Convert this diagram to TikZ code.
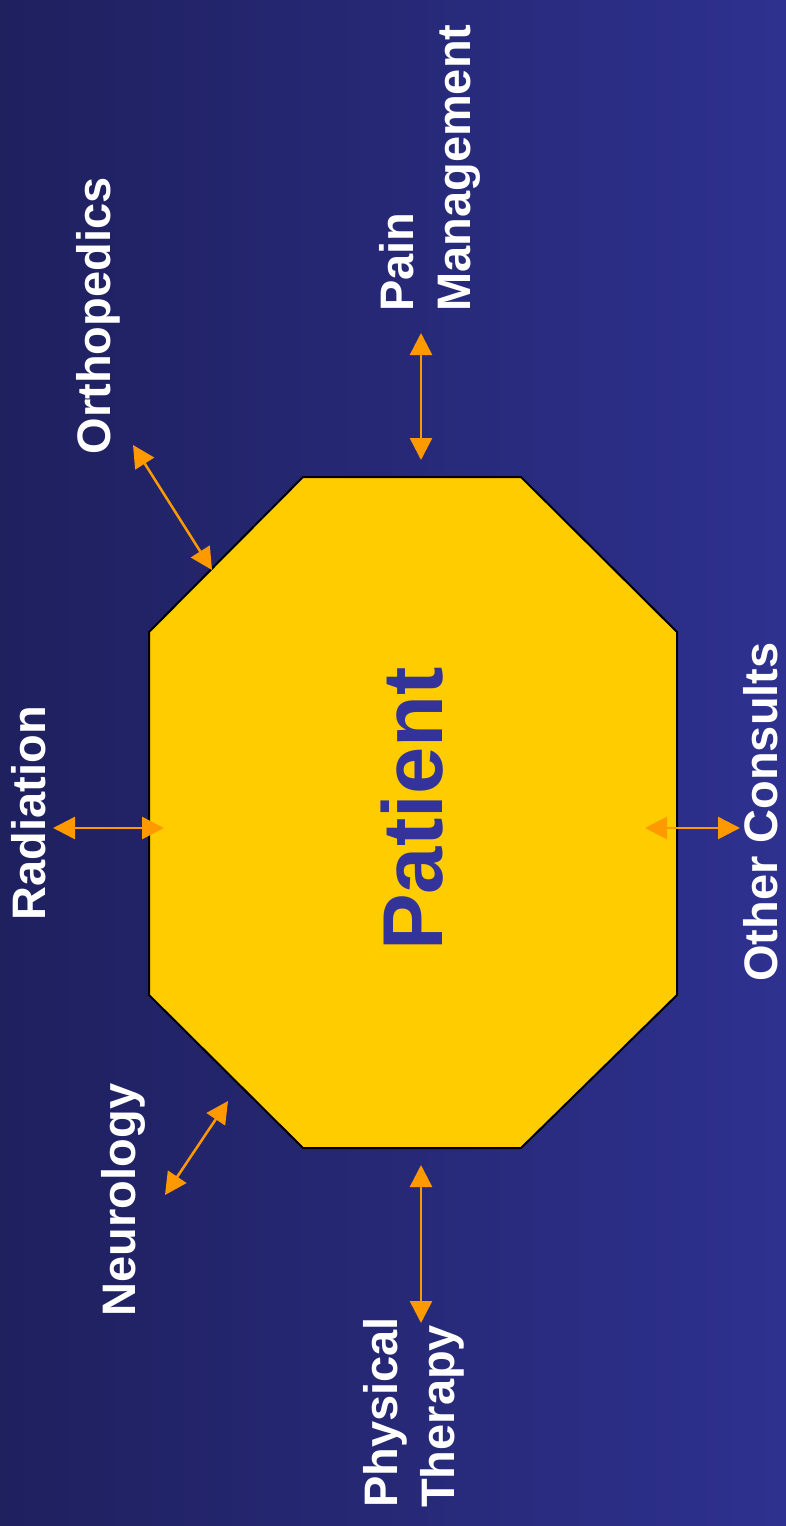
\documentclass[tikz,border=0pt]{standalone}
\usepackage{fontspec}
\setmainfont{Liberation Sans}
\usetikzlibrary{arrows.meta}
\definecolor{bgleft}{RGB}{31,32,94}
\definecolor{bgright}{RGB}{46,49,143}
\definecolor{octfill}{RGB}{255,204,0}
\definecolor{arrowc}{RGB}{255,153,0}
\definecolor{patientc}{RGB}{51,51,153}
\begin{document}
\begin{tikzpicture}[x=1pt,y=-1pt,
  link/.style={arrowc, line width=2.5pt,
    {Triangle[length=22pt,width=22pt]}-{Triangle[length=22pt,width=22pt]}},
  lbl/.style={text=white, font=\bfseries\fontsize{47}{57}\selectfont,
    rotate=90, inner sep=0pt},
  octagon/.style={fill=octfill, draw=black, line width=2pt, line join=miter}]
\shade[left color=bgleft, right color=bgright] (0,0) rectangle (786,1526);
\useasboundingbox (0,0) rectangle (786,1526);
% octagon
\draw[octagon] (303,477) -- (521,477) -- (677,632) -- (677,995) -- (521,1148)
  -- (303,1148) -- (149,995) -- (149,632) -- cycle;
\node[rotate=90, anchor=base, text=patientc, inner sep=0pt,
  font=\bfseries\fontsize{85}{100}\selectfont] (patient) at (442,809) {Patient};
% labels
\node[lbl, anchor=base] (rad) at (45,813) {Radiation};
\node[lbl, anchor=base] (ortho) at (110,316) {Orthopedics};
\node[lbl, anchor=north west, align=left] (pain) at (379,312) {Pain\\Management};
\node[lbl, anchor=base] (neuro) at (135,1200) {Neurology};
\node[lbl, anchor=base] (other) at (777,812) {Other Consults};
\node[lbl, anchor=north west, align=left] (pt) at (363,1508) {Physical\\Therapy};
% arrow end points
\coordinate (radA) at (53,828);
\coordinate (radB) at (164,828);
\coordinate (orthoA) at (133,445);
\coordinate (orthoB) at (212,570);
\coordinate (painA) at (421,333);
\coordinate (painB) at (421,460);
\coordinate (neuroA) at (165,1195);
\coordinate (neuroB) at (228,1101);
\coordinate (ptA) at (421,1165);
\coordinate (ptB) at (421,1323);
\coordinate (otherA) at (645,828);
\coordinate (otherB) at (740,828);
\draw[link] (radA) -- (radB);
\draw[link] (orthoA) -- (orthoB);
\draw[link] (painA) -- (painB);
\draw[link] (neuroA) -- (neuroB);
\draw[link] (ptA) -- (ptB);
\draw[link] (otherA) -- (otherB);
\end{tikzpicture}
\end{document}
